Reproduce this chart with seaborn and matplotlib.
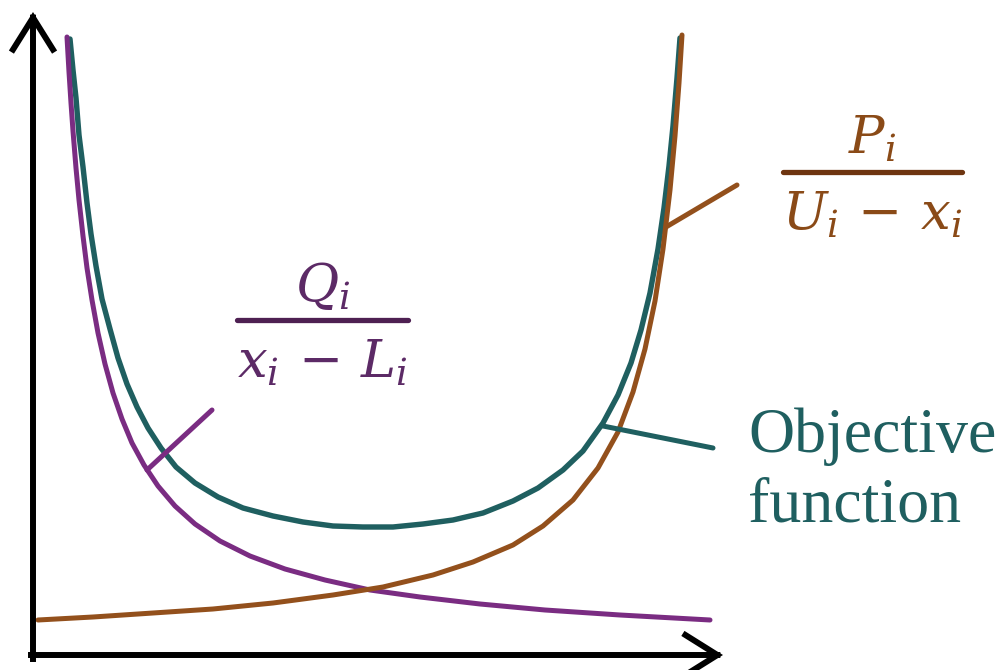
import matplotlib
matplotlib.use("Agg")
import matplotlib.pyplot as plt
from matplotlib.patches import FancyArrowPatch
import pandas as pd
import seaborn as sns

sns.set_theme(style="white")
plt.rcParams["mathtext.fontset"] = "dejavuserif"

# Curve samples (x measured from the vertical axis, y from the horizontal axis)
q_x = [34, 36, 38, 40, 43, 46, 50, 54, 59, 65, 72, 80, 89, 99, 111, 125, 142,
       162, 187, 217, 252, 292, 337, 387, 447, 512, 587, 677]
q_y = [618, 583, 552, 524, 487, 455, 419, 387, 355, 322, 291, 262, 236, 212,
       190, 169, 149, 131, 114, 99, 86, 75, 65, 58, 51, 45, 40, 35]

obj_x = [37, 40, 43, 46, 50, 54, 58, 63, 69, 77, 85, 94, 104, 115, 128, 143,
         162, 185, 210, 240, 270, 300, 330, 360, 390, 420, 450, 480, 505, 530,
         550, 570, 585, 598, 608, 617, 625, 631, 636, 640, 644, 647]
obj_y = [616, 585, 557, 520, 488, 452, 421, 389, 356, 326, 297, 271, 248, 227,
         207, 188, 172, 158, 147, 139, 133, 129, 128, 128, 131, 135, 142, 154,
         167, 185, 204, 232, 260, 292, 325, 362, 406, 447, 489, 529, 577, 617]

p_x = [5, 60, 120, 180, 240, 300, 350, 400, 440, 480, 510, 540, 565, 585, 600,
       612, 622, 630, 637, 642, 646, 649]
p_y = [35, 38, 42, 46, 52, 60, 68, 80, 93, 110, 129, 155, 187, 223, 263, 306,
       354, 406, 465, 519, 572, 620]

PURPLE = "#7a2c82"
TEAL = "#1f5f60"
BROWN = "#93501c"

W, H = 999, 670
fig = plt.figure(figsize=(W / 100, H / 100), dpi=100)
ax = fig.add_axes([0, 0, 1, 1])
ax.set_xlim(-33, W - 33)
ax.set_ylim(-15, H - 15)
ax.axis("off")

curve_lw = 3.6
sns.lineplot(data=pd.DataFrame({"x": obj_x, "y": obj_y}), x="x", y="y",
             sort=False, estimator=None, color=TEAL, lw=3.9, ax=ax)
sns.lineplot(data=pd.DataFrame({"x": q_x, "y": q_y}), x="x", y="y",
             sort=False, estimator=None, color=PURPLE, lw=curve_lw, ax=ax)
sns.lineplot(data=pd.DataFrame({"x": p_x, "y": p_y}), x="x", y="y",
             sort=False, estimator=None, color=BROWN, lw=curve_lw, ax=ax)
for ln in ax.lines:
    ln.set_solid_capstyle("round")
    ln.set_solid_joinstyle("round")


def px(x, y):
    """Convert pixel position (from top-left) to figure fraction."""
    return x / W, 1 - y / H


# Axes with open arrow heads
axis_style = dict(arrowstyle="->,head_length=1.15,head_width=0.72",
                  mutation_scale=20, lw=4.3, color="black",
                  transform=fig.transFigure, joinstyle="miter",
                  capstyle="projecting", shrinkA=0, shrinkB=0)
fig.patches.append(FancyArrowPatch(px(33, 659), px(33, 12), **axis_style))
fig.patches.append(FancyArrowPatch(px(31, 655), px(723, 655), **axis_style))


# Leader lines from the labels to the curves
def leader(p0, p1, color):
    xs, ys = zip(px(*p0), px(*p1))
    fig.add_artist(plt.Line2D(xs, ys, color=color, lw=curve_lw,
                              solid_capstyle="round",
                              transform=fig.transFigure))


leader((147, 470), (212, 410), PURPLE)
leader((603, 426), (713, 448), TEAL)
leader((666, 227), (737, 185), BROWN)


# Fraction labels
def fraction(num, den, x0, x1, y_bar, y_num, y_den, color, bar_color, size):
    cx = (x0 + x1) / 2
    fig.text(*px(cx, y_num), num, ha="center", va="baseline",
             color=color, fontsize=size)
    fig.text(*px(cx, y_den), den, ha="center", va="baseline",
             color=color, fontsize=size)
    xs, ys = zip(px(x0, y_bar), px(x1, y_bar))
    fig.add_artist(plt.Line2D(xs, ys, color=bar_color, lw=3.8,
                              transform=fig.transFigure))


fraction(r"$Q_i$", r"$x_i\,-\,L_i$", 237, 408, 320, 301, 378,
         "#5c2a66", "#4e2052", 38)
fraction(r"$P_i$", r"$U_i\,-\,x_i$", 783, 962, 172, 154, 230,
         "#8a4a17", "#6e3510", 38)

fig.text(*px(748, 452), "Objective", color=TEAL, fontsize=46,
         family="Liberation Serif", va="baseline")
fig.text(*px(748, 522), "function", color=TEAL, fontsize=46,
         family="Liberation Serif", va="baseline")

fig.savefig("out.png", dpi=100)
